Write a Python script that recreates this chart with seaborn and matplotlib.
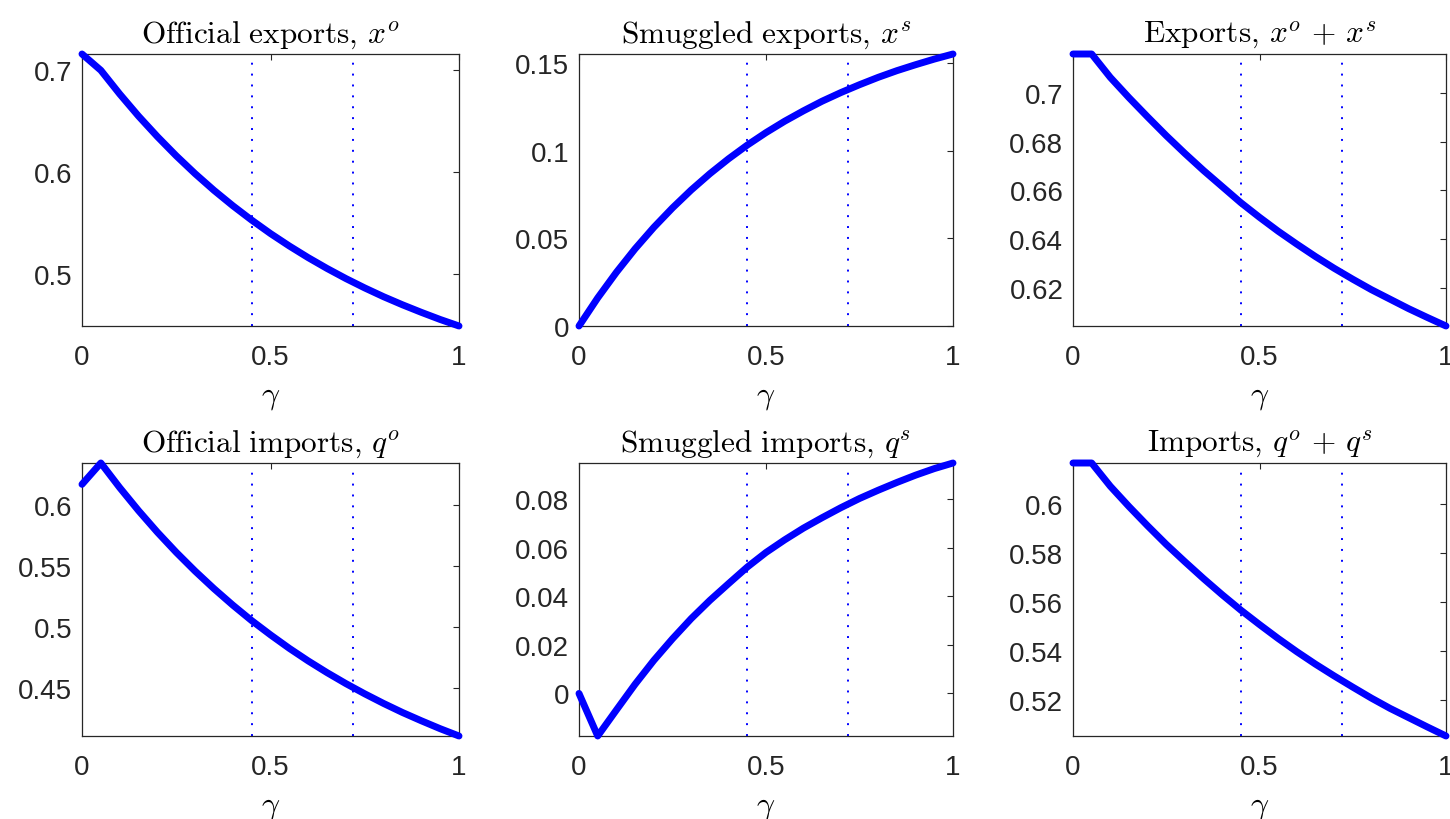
import matplotlib
matplotlib.use("Agg")
import matplotlib.pyplot as plt
import seaborn as sns

# ---------------- data ----------------
gamma = [0.0, 0.05, 0.10, 0.15, 0.20, 0.25, 0.30, 0.35, 0.40, 0.45, 0.50,
         0.55, 0.60, 0.65, 0.70, 0.75, 0.80, 0.85, 0.90, 0.95, 1.0]

official_exports = [0.7160, 0.7000, 0.6768, 0.6551, 0.6350, 0.6162, 0.5987,
                    0.5824, 0.5673, 0.5532, 0.5400, 0.5278, 0.5164, 0.5058,
                    0.4959, 0.4867, 0.4781, 0.4702, 0.4628, 0.4558, 0.4494]
smuggled_exports = [0.0, 0.0160, 0.0306, 0.0440, 0.0562, 0.0673, 0.0775,
                    0.0868, 0.0953, 0.1031, 0.1102, 0.1167, 0.1226, 0.1281,
                    0.1330, 0.1375, 0.1417, 0.1455, 0.1489, 0.1521, 0.1550]
total_exports = [0.7160, 0.7160, 0.7064, 0.6981, 0.6902, 0.6825, 0.6752,
                 0.6682, 0.6616, 0.6550, 0.6490, 0.6433, 0.6380, 0.6329,
                 0.6281, 0.6236, 0.6193, 0.6154, 0.6115, 0.6079, 0.6044]

official_imports = [0.6168, 0.6343, 0.6141, 0.5952, 0.5775, 0.5610, 0.5456,
                    0.5312, 0.5177, 0.5050, 0.4933, 0.4822, 0.4719, 0.4623,
                    0.4533, 0.4449, 0.4370, 0.4296, 0.4228, 0.4163, 0.4103]
smuggled_imports = [0.0, -0.0175, -0.0068, 0.0038, 0.0136, 0.0225, 0.0308,
                    0.0383, 0.0452, 0.0520, 0.0580, 0.0632, 0.0680, 0.0723,
                    0.0764, 0.0802, 0.0836, 0.0868, 0.0898, 0.0925, 0.0948]
total_imports = [0.6168, 0.6168, 0.6073, 0.5990, 0.5911, 0.5835, 0.5764,
                 0.5695, 0.5629, 0.5566, 0.5507, 0.5450, 0.5396, 0.5345,
                 0.5297, 0.5251, 0.5206, 0.5164, 0.5126, 0.5088, 0.5051]

titles = [r"$\mathrm{Official\ exports,}\,x^o$",
          r"$\mathrm{Smuggled\ exports,}\,x^s$",
          r"$\mathrm{Exports,}\,x^o\,+\,x^s$",
          r"$\mathrm{Official\ imports,}\,q^o$",
          r"$\mathrm{Smuggled\ imports,}\,q^s$",
          r"$\mathrm{Imports,}\,q^o\,+\,q^s$"]

series = [official_exports, smuggled_exports, total_exports,
          official_imports, smuggled_imports, total_imports]

yticks = [[0.5, 0.6, 0.7],
          [0.0, 0.05, 0.1, 0.15],
          [0.62, 0.64, 0.66, 0.68, 0.7],
          [0.45, 0.5, 0.55, 0.6],
          [0.0, 0.02, 0.04, 0.06, 0.08],
          [0.52, 0.54, 0.56, 0.58, 0.6]]
ytick_labels = [["0.5", "0.6", "0.7"],
                ["0", "0.05", "0.1", "0.15"],
                ["0.62", "0.64", "0.66", "0.68", "0.7"],
                ["0.45", "0.5", "0.55", "0.6"],
                ["0", "0.02", "0.04", "0.06", "0.08"],
                ["0.52", "0.54", "0.56", "0.58", "0.6"]]
xticks = [0.0, 0.5, 1.0]
xtick_labels = ["0", "0.5", "1"]
vlines = [0.45, 0.72]

# ---------------- style ----------------
sns.set_theme(style="white")
plt.rcParams["font.family"] = ["Liberation Sans", "DejaVu Sans"]
plt.rcParams["mathtext.fontset"] = "cm"
dark = "#262626"

fig = plt.figure(figsize=(14.5, 8.2), dpi=100)
W, H = 1450.0, 820.0
cols = [(82, 459), (579, 953), (1073, 1446)]
rows = [(55, 327), (464, 737)]

for i in range(6):
    r, c = divmod(i, 3)
    x0, x1 = cols[c]
    y0, y1 = rows[r]
    ax = fig.add_axes([x0 / W, 1 - y1 / H, (x1 - x0) / W, (y1 - y0) / H])
    for xv in vlines:
        ax.axvline(xv, color="#0000ff", lw=1.4, linestyle=(0, (1.0, 4.6)), zorder=1)
    sns.lineplot(x=gamma, y=series[i], ax=ax, color="#0000ff", linewidth=5.0,
                 zorder=3)
    for ln in ax.lines:
        ln.set_clip_on(False)
    ax.set_xlim(0, 1)
    ax.set_ylim(min(series[i]), max(series[i]))
    ax.set_xticks(xticks)
    ax.set_xticklabels(xtick_labels)
    ax.set_yticks(yticks[i])
    ax.set_yticklabels(ytick_labels[i])
    ax.tick_params(axis="both", direction="in", length=4, width=0.8,
                   colors=dark, labelsize=20, top=True, right=True,
                   labelcolor=dark)
    ax.tick_params(axis="x", pad=13)
    ax.tick_params(axis="y", pad=7)
    for sp in ax.spines.values():
        sp.set_color(dark)
        sp.set_linewidth(0.9)
        sp.set_visible(True)
    ax.set_title(titles[i], fontsize=22.5, color="black", pad=9)
    ax.set_xlabel(r"$\gamma$", fontsize=23, color="black", labelpad=8)
    ax.set_ylabel("")
    ax.set_facecolor("white")

fig.savefig("out.png", dpi=100, facecolor="white")
